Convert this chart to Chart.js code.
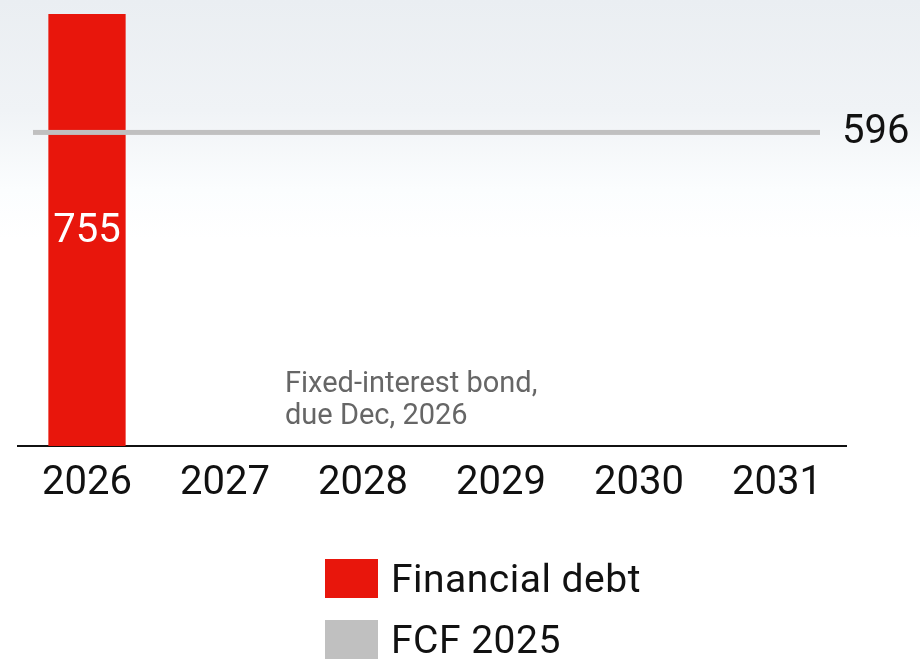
<!DOCTYPE html>
<html>
<head>
<meta charset="utf-8">
<script src="https://cdn.jsdelivr.net/npm/chart.js@4/dist/chart.umd.min.js"></script>
<style>
  html, body { margin: 0; padding: 0; }
  body {
    width: 920px; height: 660px; overflow: hidden; position: relative;
    background: linear-gradient(#eaeef2 0px, #f0f3f6 110px, #fbfdfe 190px, #ffffff 240px);
    font-family: Roboto, sans-serif;
  }
  #wrap { position: absolute; left: 0; top: 0; width: 920px; height: 660px; }
  #legend { position: absolute; left: 325px; top: 559px; }
  .item { display: flex; align-items: center; height: 39px; margin-bottom: 22px; }
  .box { width: 53px; height: 39px; margin-right: 13px; }
  .item span { font-size: 39px; color: #111; letter-spacing: 0.5px; }
</style>
</head>
<body>
<div id="wrap"><canvas id="myChart"></canvas></div>
<div id="legend"></div>
<script>
var years = ['2026', '2027', '2028', '2029', '2030', '2031']
var debtData = [755, null, null, null, null, null]
var fcf2025 = 596
var note = ['Fixed-interest bond,', 'due Dec, 2026']

var red = '#e8160c', grey = '#c0c0c0'

// draws FCF line, value labels and the note
var extras = {
  id: 'extras',
  afterDatasetsDraw(chart) {
    let ctx = chart.ctx, area = chart.chartArea
    let y = chart.scales.y.getPixelForValue(fcf2025)
    ctx.save()
    ctx.fillStyle = grey
    ctx.fillRect(area.left + 15, y - 2.5, area.right - 26 - area.left - 15, 5)

    ctx.font = '40px Roboto'
    ctx.textBaseline = 'middle'
    ctx.fillStyle = '#111'
    ctx.textAlign = 'left'
    ctx.fillText(String(fcf2025), area.right - 4, y + 1)

    let bars = chart.getDatasetMeta(1).data
    bars.forEach((bar, i) => {
      if (debtData[i] == null) return
      ctx.fillStyle = '#fff'
      ctx.textAlign = 'center'
      ctx.fillText(String(debtData[i]), bar.x, (bar.y + Math.min(bar.base, area.bottom)) / 2 + 2)
    })

    ctx.font = '29px Roboto'
    ctx.fillStyle = '#666'
    ctx.textAlign = 'left'
    ctx.textBaseline = 'alphabetic'
    ctx.fillText(note[0], area.left + 267, 392)
    ctx.fillText(note[1], area.left + 267, 424)
    ctx.restore()
  }
}

let ctx = document.getElementById('myChart').getContext('2d');
let myChart = new Chart(ctx, {
    type: 'bar',
    data: {
        labels: years,
        datasets: [{
            type: 'line',
            label: 'FCF 2025',
            data: years.map(() => fcf2025),
            borderColor: grey,
            backgroundColor: grey,
            showLine: false,
            pointRadius: 0
        },
        {
            label: 'Financial debt',
            backgroundColor: red,
            borderWidth: 0,
            data: debtData,
            barPercentage: 0.56,
            categoryPercentage: 1
        }]
    },
    options: {
        responsive: true,
        maintainAspectRatio: false,
        animation: false,
        layout: { padding: { top: 14, left: 18, right: 74, bottom: 138 } },
        plugins: { legend: { display: false }, tooltip: { enabled: false } },
        scales: {
            y: { display: false, min: 175, max: 755 },
            x: {
                grid: { display: false, drawTicks: false },
                border: { color: '#111', width: 2 },
                ticks: { color: '#111', font: { family: 'Roboto', size: 40 }, padding: 14 }
            }
        }
    },
    plugins: [extras]
});

// legend in the order shown
let legend = document.getElementById('legend')
;[1, 0].forEach(i => {
    let ds = myChart.data.datasets[i]
    legend.innerHTML += '<div class="item"><div class="box" style="background:' + ds.backgroundColor + '"></div><span>' + ds.label + '</span></div>'
})
</script>
</body>
</html>
